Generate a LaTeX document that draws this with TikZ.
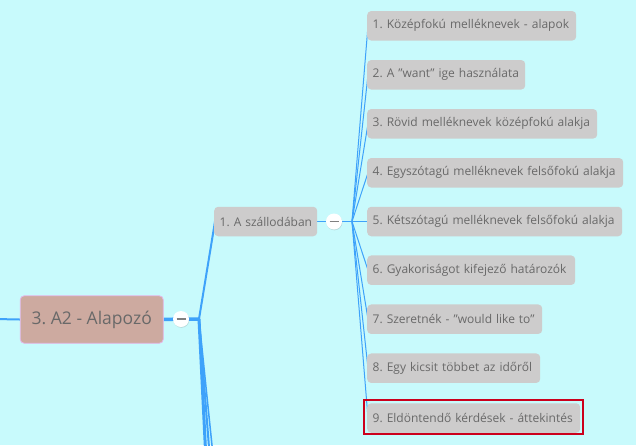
\documentclass[tikz,border=0pt]{standalone}
\usepackage{fontspec}
\setmainfont{Open Sans}
\usetikzlibrary{shadows}
\definecolor{bgc}{RGB}{200,250,252}
\definecolor{boxc}{RGB}{205,204,204}
\definecolor{mainc}{RGB}{205,170,160}
\definecolor{mainb}{RGB}{228,182,232}
\definecolor{linec}{RGB}{62,162,250}
\definecolor{txtc}{RGB}{105,105,105}
\definecolor{redc}{RGB}{204,0,28}
\pgfdeclarelayer{bgfill}
\pgfdeclarelayer{lines}
\pgfsetlayers{bgfill,lines,main}
\newcommand{\qq}{\char34\relax}
\frenchspacing
\tikzset{
  leaf/.style={draw=none, fill=boxc, rounded corners=4pt, anchor=west,
    minimum height=29.5pt, inner xsep=5.5pt, inner ysep=0pt, align=left,
    text=txtc, font=\fontsize{12pt}{14pt}\selectfont\frenchspacing},
  topbox/.style={draw=mainb, line width=0.8pt, fill=mainc, rounded corners=4pt,
    minimum width=143pt, minimum height=47.5pt, text=txtc, inner xsep=10pt,
    font=\fontsize{17.5pt}{20pt}\selectfont\frenchspacing},
  collapse/.style={circle, fill=white, draw=none, minimum size=16pt, inner sep=0pt,
    drop shadow={shadow xshift=0.4pt, shadow yshift=-0.8pt, opacity=0.25}},
  conn/.style={draw=linec, line width=1pt},
  hiliteframe/.style={draw=redc, line width=2pt},
}
\begin{document}
\begin{tikzpicture}[x=1pt,y=-1pt]
\begin{pgfonlayer}{bgfill}
\fill[bgc] (0,0) rectangle (636,445);
\end{pgfonlayer}
\useasboundingbox (0,0) rectangle (636,445);
\clip (0,0) rectangle (636,445);

% main topic
\node[topbox] (top) at (91.75,319.5) {3. A2 - Alapozó};
\node[collapse] (c1) at (181,319) {};
\draw[draw=gray, line width=1.6pt] ([xshift=-4.5pt]c1.center) -- ([xshift=4.5pt]c1.center);
\coordinate (j1) at (199,319);
\coordinate (inleft) at (-5,319);

% sub topic
\node[leaf, text width=92pt] (sub) at (214,221.5) {\mbox{1. A szállodában}};
\node[collapse] (c2) at (334,221.5) {};
\draw[draw=gray, line width=1.6pt] ([xshift=-4.5pt]c2.center) -- ([xshift=4.5pt]c2.center);
\coordinate (j2) at (352,221.5);

% leaves
\node[leaf, text width=198pt] (l1) at (367,25.8) {\mbox{1. Középfokú melléknevek - alapok}};
\node[leaf, text width=147pt] (l2) at (367,74.8) {\mbox{2. A \qq want\qq\ ige használata}};
\node[leaf, text width=219pt] (l3) at (367,123.8) {\mbox{3. Rövid melléknevek középfokú alakja}};
\node[leaf, text width=245pt] (l4) at (367,172.8) {\mbox{4. Egyszótagú melléknevek felsőfokú alakja}};
\node[leaf, text width=244pt] (l5) at (367,221.5) {\mbox{5. Kétszótagú melléknevek felsőfokú alakja}};
\node[leaf, text width=197pt] (l6) at (367,270.2) {\mbox{6. Gyakoriságot kifejező határozók}};
\node[leaf, text width=164pt] (l7) at (367,319.2) {\mbox{7. Szeretnék - \qq would like to\qq}};
\node[leaf, text width=162pt] (l8) at (367,368.2) {\mbox{8. Egy kicsit többet az időről}};
\node[leaf, text width=202pt] (l9) at (367,418) {\mbox{9. Eldöntendő kérdések - áttekintés}};
\draw[hiliteframe] ([xshift=-3pt,yshift=-1.25pt]l9.south west) rectangle ([xshift=3pt,yshift=3.25pt]l9.north east);

% hidden branches below
\coordinate (d1) at (206,460);
\coordinate (d2) at (210,460);
\coordinate (d3) at (213.5,460);

\begin{pgfonlayer}{lines}
\draw[conn, line width=2pt] (inleft) -- (top.west);
\draw[conn, line width=3.5pt] (top.east) -- (c1.center) -- (j1);
\draw[conn, line width=2pt] (j1) -- ([xshift=1pt]sub.west);
\draw[conn, line width=3pt] (j1) -- (d1);
\draw[conn, line width=2pt] (j1) -- (d2);
\draw[conn, line width=1.5pt] (j1) -- (d3);
\draw[conn] (sub.east) -- (c2.center) -- (j2);
\foreach \n in {l1,l2,l3,l4,l5,l6,l7,l8,l9}{
  \draw[conn] (j2) -- ([xshift=1pt]\n.west);
}
\end{pgfonlayer}
\end{tikzpicture}
\end{document}
